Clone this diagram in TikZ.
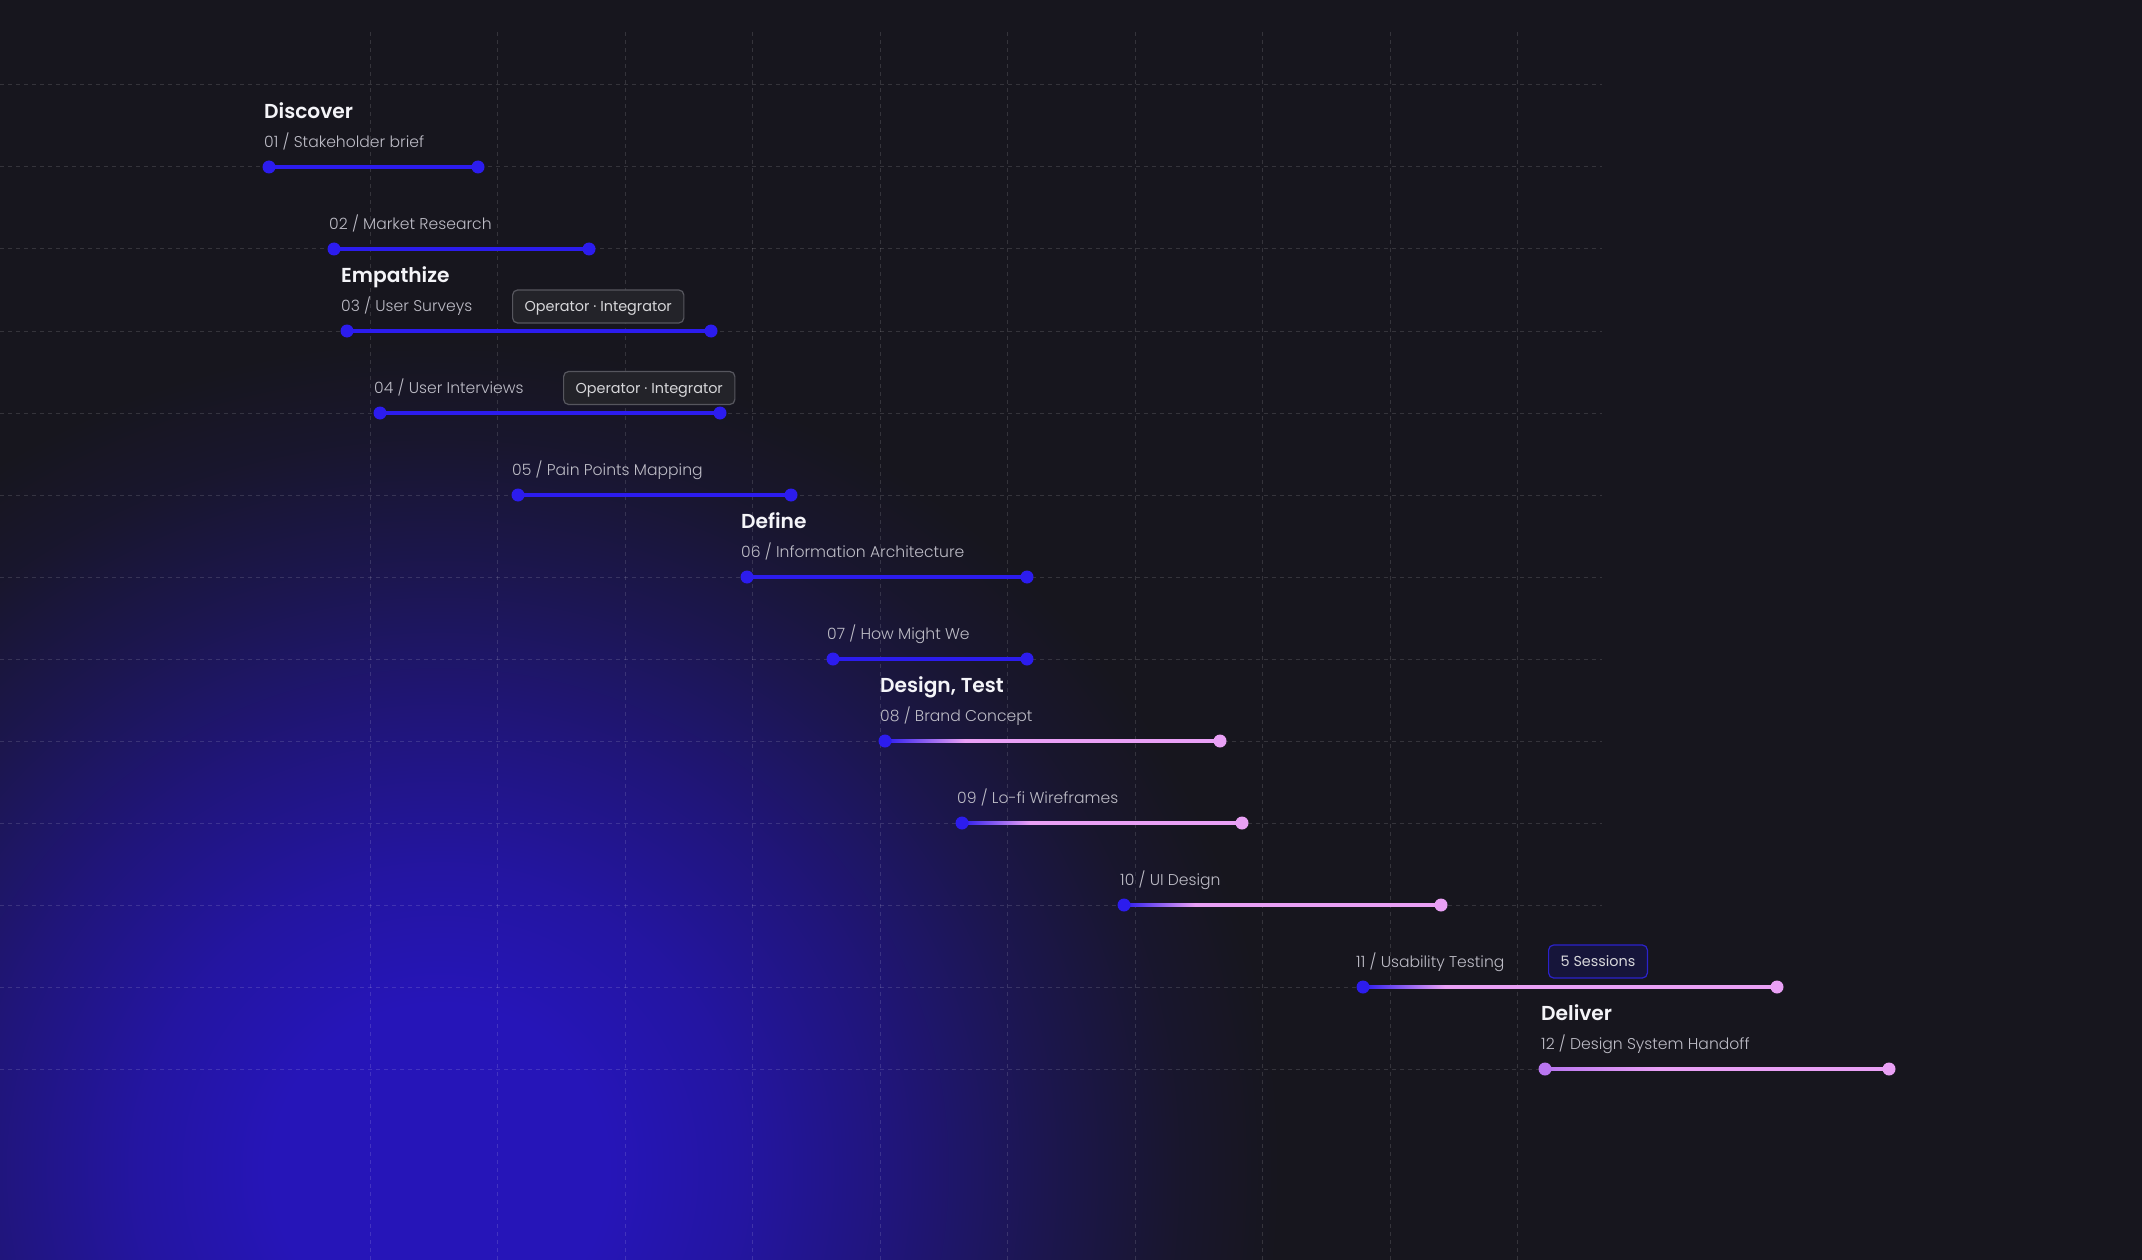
\documentclass[tikz,border=0pt]{standalone}
\usepackage{fontspec}
\setmainfont{Poppins}
\newfontfamily\headfont{Poppins SemiBold}
\newfontfamily\labelfont{Poppins Light}
\definecolor{bg}{HTML}{17161E}
\definecolor{glowc}{HTML}{2615B8}
\colorlet{glowa}{glowc!85!bg}
\colorlet{glowb}{glowc!60!bg}
\colorlet{glowd}{glowc!32!bg}
\colorlet{glowe}{glowc!10!bg}
\definecolor{barblue}{HTML}{2C1CEE}
\definecolor{barpink}{HTML}{E9A0F5}
\definecolor{barpurple}{HTML}{B976F0}
\definecolor{lblgray}{HTML}{BDBCC6}
\definecolor{headwhite}{HTML}{F4F4F8}
\definecolor{badgefill}{HTML}{232329}
\definecolor{badgeline}{HTML}{56565E}
\definecolor{sessfill}{HTML}{16153A}
\definecolor{sessline}{HTML}{2B22CC}
\pgfdeclareradialshading{glowshade}{\pgfpoint{0bp}{0bp}}{color(0bp)=(glowc); color(5bp)=(glowc); color(9bp)=(glowa); color(13.5bp)=(glowb); color(18bp)=(glowd); color(22bp)=(glowe); color(25bp)=(bg); color(50bp)=(bg)}
\pgfdeclarehorizontalshading{bluepink}{100bp}{color(0bp)=(barblue); color(25bp)=(barblue); color(75bp)=(barpink); color(100bp)=(barpink)}
\pgfdeclarehorizontalshading{purplepink}{100bp}{color(0bp)=(barpurple); color(25bp)=(barpurple); color(75bp)=(barpink); color(100bp)=(barpink)}
\tikzset{
  gridln/.style={white, opacity=0.13, line width=1pt, dash pattern=on 4pt off 4pt},
  barline/.style={line width=3.5pt},
  dotb/.style={circle, fill=barblue, inner sep=0pt, minimum size=13pt},
  dotp/.style={circle, fill=barpink, inner sep=0pt, minimum size=13pt},
  dotv/.style={circle, fill=barpurple, inner sep=0pt, minimum size=13pt},
  lbl/.style={anchor=base west, inner sep=0pt, text=lblgray, font=\labelfont\fontsize{15.6}{19}\selectfont},
  head/.style={anchor=base west, inner sep=0pt, text=headwhite, font=\headfont\fontsize{20.2}{24}\selectfont},
  badge/.style={anchor=west, rounded corners=5pt, draw=badgeline, fill=badgefill, line width=1.2pt, text=headwhite!88!black, font=\fontsize{14.4}{17}\selectfont, minimum height=33pt, inner xsep=12pt, inner ysep=0pt, text height=13.6pt, text depth=3.4pt},
  sessbadge/.style={badge, draw=sessline, fill=sessfill}
}
\begin{document}
\begin{tikzpicture}[x=1pt,y=-1pt]
\useasboundingbox (0,0) rectangle (2142,1260);
\fill[bg] (0,0) rectangle (2142,1260);
\begin{scope}
\clip (0,0) rectangle (2142,1260);
\shade[shading=glowshade] (440,1170) ellipse [x radius=840, y radius=830];
\end{scope}
% grid
\foreach \k in {0,...,9} {\draw[gridln] (370+127.5*\k,32) -- (370+127.5*\k,1260);}
\foreach \k in {0,...,12} {\draw[gridln] (0,85+82*\k) -- (1602,85+82*\k);}
% bar coordinates
\coordinate (s1) at (269,167);  \coordinate (e1) at (478,167);
\coordinate (s2) at (334,249);  \coordinate (e2) at (589,249);
\coordinate (s3) at (347,331);  \coordinate (e3) at (711,331);
\coordinate (s4) at (380,413);  \coordinate (e4) at (720,413);
\coordinate (s5) at (518,495);  \coordinate (e5) at (791,495);
\coordinate (s6) at (747,577);  \coordinate (e6) at (1027,577);
\coordinate (s7) at (833,659);  \coordinate (e7) at (1027,659);
\coordinate (s8) at (885,741);  \coordinate (e8) at (1220,741);
\coordinate (s9) at (962,823);  \coordinate (e9) at (1242,823);
\coordinate (s10) at (1124,905); \coordinate (e10) at (1441,905);
\coordinate (s11) at (1363,987); \coordinate (e11) at (1777,987);
\coordinate (s12) at (1545,1069); \coordinate (e12) at (1889,1069);
% blue bars
\foreach \i in {1,...,7} {\draw[barblue, barline] (s\i) -- (e\i);}
% gradient bars
\foreach \i in {8,...,11} {\draw[barpink, barline] (s\i) -- (e\i);}
\shade[shading=bluepink] (885,739.25) rectangle (965,742.75);
\shade[shading=bluepink] (962,821.25) rectangle (1030,824.75);
\shade[shading=bluepink] (1124,903.25) rectangle (1195,906.75);
\shade[shading=bluepink] (1363,985.25) rectangle (1445,988.75);
\draw[barpink, barline] (s12) -- (e12);
\shade[shading=purplepink] (1545,1067.25) rectangle (1660,1070.75);
% dots
\foreach \i in {1,...,7} {\node[dotb] (ds\i) at (s\i) {}; \node[dotb] (de\i) at (e\i) {};}
\foreach \i in {8,...,11} {\node[dotb] (ds\i) at (s\i) {}; \node[dotp] (de\i) at (e\i) {};}
\node[dotv] (ds12) at (s12) {}; \node[dotp] (de12) at (e12) {};
% headings
\node[head] (h1) at (264,118.5) {Discover};
\node[head] (h2) at (341,282.5) {Empathize};
\node[head] (h3) at (741,528.5) {Define};
\node[head] (h4) at (880,692.5) {Design, Test};
\node[head] (h5) at (1541,1020.5) {Deliver};
% labels
\node[lbl] (l1) at (264,147.5) {01 / Stakeholder brief};
\node[lbl] (l2) at (329,229.5) {02 / Market Research};
\node[lbl] (l3) at (341,311.5) {03 / User Surveys};
\node[lbl] (l4) at (374,393.5) {04 / User Interviews};
\node[lbl] (l5) at (512,475.5) {05 / Pain Points Mapping};
\node[lbl] (l6) at (741,557.5) {06 / Information Architecture};
\node[lbl] (l7) at (827,639.5) {07 / How Might We};
\node[lbl] (l8) at (880,721.5) {08 / Brand Concept};
\node[lbl] (l9) at (957,803.5) {09 / Lo-fi Wireframes};
\node[lbl] (l10) at (1120,885.5) {10 / UI Design};
\node[lbl] (l11) at (1356,967.5) {11 / Usability Testing};
\node[lbl] (l12) at (1541,1049.5) {12 / Design System Handoff};
% badges
\node[badge] (b1) at (512,306.5) {Operator · Integrator};
\node[badge] (b2) at (563,388) {Operator · Integrator};
\node[sessbadge] (b3) at (1548,961.5) {5 Sessions};
\end{tikzpicture}
\end{document}
